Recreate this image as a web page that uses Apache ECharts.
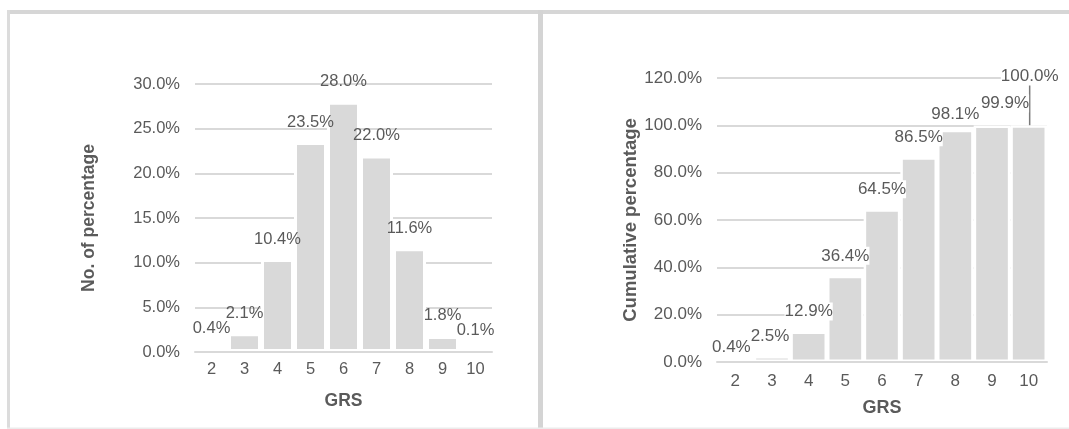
<!DOCTYPE html>
<html>
<head>
<meta charset="utf-8">
<script src="https://cdn.jsdelivr.net/npm/echarts@6/dist/echarts.min.js"></script>
<style>
  html, body { margin: 0; padding: 0; background: #ffffff; }
  #chart { width: 1069px; height: 429px; }
</style>
</head>
<body>
<div id="chart"></div>
<script>
// GRS score categories shared by both panels
const grsScores = ['2', '3', '4', '5', '6', '7', '8', '9', '10'];
// Share of subjects at each GRS score (%)
const percentByScore = [0.4, 2.1, 10.4, 23.5, 28.0, 22.0, 11.6, 1.8, 0.1];
// Running total of the share (%)
const cumulativePercent = [0.4, 2.5, 12.9, 36.4, 64.5, 86.5, 98.1, 99.9, 100.0];
// Value-axis ranges
const leftAxisMax = 30, leftAxisStep = 5;
const rightAxisMax = 120, rightAxisStep = 20;

const FONT = '"Liberation Sans", Arial, sans-serif';
const TEXT = '#5a5a5a';
const GRID_LINE = '#d9d9d9';
const BAR = '#d9d9d9';

const pct = v => Number(v).toFixed(1) + '%';

// Label nudges on the cumulative panel, so crowded labels stay readable;
// the last one is lifted and tied back to its bar with a guide line
const lastIdx = cumulativePercent.length - 1;
const rightLabelMove = { 0: [-4, 7], 1: [-2, 0], 6: [0, 4], 7: [13, -2], 8: [1, -29] };

function valueAxis(gridIndex, max, step, fs, nameFs, name, gap) {
  return {
    type: 'value', gridIndex, min: 0, max, interval: step,
    name, nameLocation: 'middle', nameGap: gap,
    nameTextStyle: { fontFamily: FONT, fontWeight: 'bold', fontSize: nameFs, color: TEXT },
    axisLine: { show: false }, axisTick: { show: false },
    axisLabel: { formatter: pct, fontFamily: FONT, fontSize: fs, color: TEXT, margin: 15 },
    splitLine: { lineStyle: { color: GRID_LINE, width: 2 } }
  };
}

function categoryAxis(gridIndex, fs, nameFs, margin, gap) {
  return {
    type: 'category', gridIndex, data: grsScores, z: 5,
    name: 'GRS', nameLocation: 'middle', nameGap: gap,
    nameTextStyle: { fontFamily: FONT, fontWeight: 'bold', fontSize: nameFs, color: TEXT },
    axisLine: { lineStyle: { color: GRID_LINE, width: 2 } },
    axisTick: { show: false },
    axisLabel: { fontFamily: FONT, fontSize: fs, color: TEXT, margin }
  };
}

const chart = echarts.init(document.getElementById('chart'), null, { renderer: 'canvas' });

chart.setOption({
  animation: false,
  backgroundColor: '#ffffff',
  grid: [
    { left: 195, right: 577, top: 84, bottom: 77 },
    { left: 717, right: 22, top: 78, bottom: 67 }
  ],
  xAxis: [
    categoryAxis(0, 16.5, 17.5, 9, 40),
    categoryAxis(1, 17, 18, 11, 37)
  ],
  yAxis: [
    valueAxis(0, leftAxisMax, leftAxisStep, 16.5, 17.5, 'No. of percentage', 97),
    valueAxis(1, rightAxisMax, rightAxisStep, 17, 18.5, 'Cumulative percentage', 77)
  ],
  series: [
    {
      type: 'bar', xAxisIndex: 0, yAxisIndex: 0,
      data: percentByScore,
      barCategoryGap: '0%',
      itemStyle: { color: BAR, borderColor: '#ffffff', borderWidth: 3 },
      label: {
        show: true, position: 'top', distance: 11, formatter: p => pct(p.value),
        fontFamily: FONT, fontSize: 16.5, color: TEXT, lineHeight: 18
      }
    },
    {
      type: 'bar', xAxisIndex: 1, yAxisIndex: 1,
      data: cumulativePercent.map((v, i) => (i === lastIdx
        ? { value: v, labelLine: { show: true, lineStyle: { color: '#7a7a7a', width: 1.5 } } }
        : v)),
      barCategoryGap: '0%',
      itemStyle: { color: BAR, borderColor: '#ffffff', borderWidth: 2.5 },
      label: {
        show: true, position: 'top', distance: 11, formatter: p => pct(p.value),
        fontFamily: FONT, fontSize: 17, color: TEXT, lineHeight: 18,
        backgroundColor: '#ffffff'
      },
      labelLayout: p => {
        const m = rightLabelMove[p.dataIndex];
        return m ? { dx: m[0], dy: m[1] } : {};
      }
    }
  ],
  graphic: [
    // panel frames
    { type: 'rect', silent: true, z: 100, shape: { x: 7, y: 10, width: 1062, height: 4 }, style: { fill: '#d6d6d6' } },
    { type: 'rect', silent: true, z: 100, shape: { x: 7, y: 10, width: 3, height: 419 }, style: { fill: '#dcdcdc' } },
    { type: 'rect', silent: true, z: 100, shape: { x: 538, y: 10, width: 5, height: 419 }, style: { fill: '#d4d4d4' } },
    { type: 'rect', silent: true, z: 100, shape: { x: 7, y: 427.5, width: 1062, height: 1.5 }, style: { fill: '#ececec' } }
  ]
});
</script>
</body>
</html>
